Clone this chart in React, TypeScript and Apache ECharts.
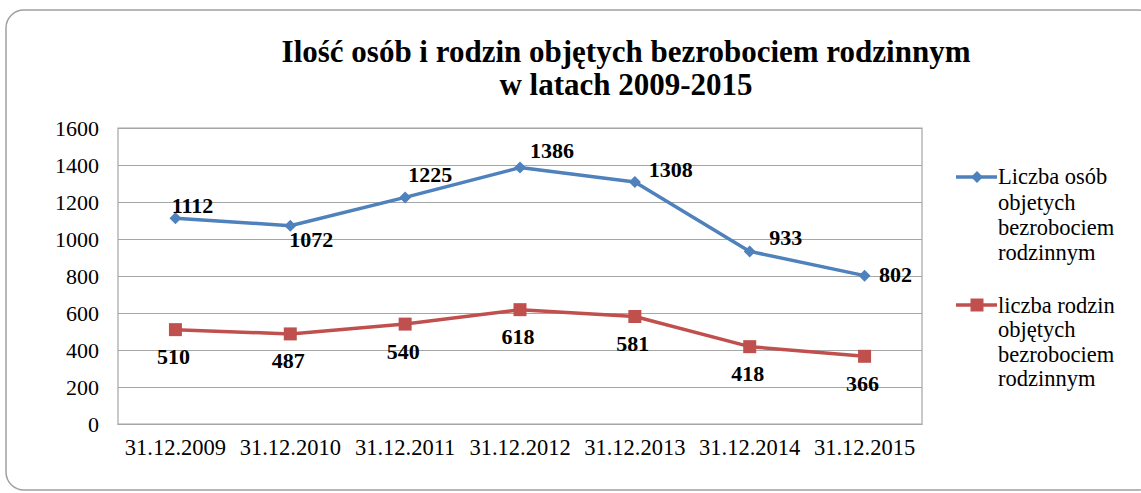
import React, { useEffect, useRef } from "react";
import * as echarts from "echarts";

const categories = [
  "31.12.2009",
  "31.12.2010",
  "31.12.2011",
  "31.12.2012",
  "31.12.2013",
  "31.12.2014",
  "31.12.2015",
];
const osobyValues = [1112, 1072, 1225, 1386, 1308, 933, 802];
const rodzinyValues = [510, 487, 540, 618, 581, 418, 366];
const yTicks = { min: 0, max: 1600, interval: 200 };

const osobyName = "Liczba osób objetych bezrobociem rodzinnym";
const rodzinyName = "liczba rodzin objętych bezrobociem rodzinnym";
const osobyLegend = "Liczba osób\nobjetych\nbezrobociem\nrodzinnym";
const rodzinyLegend = "liczba rodzin\nobjętych\nbezrobociem\nrodzinnym";
const titleText =
  "Ilość osób i rodzin objętych bezrobociem rodzinnym\nw latach 2009-2015";

// label placement (layout only)
const osobyLabelOffsets = [
  [17, -13],
  [21, 14],
  [25, -23],
  [32, -17],
  [36, -13],
  [36, -14],
  [31, -1],
];
const rodzinyLabelOffset = [-2, 27];

const BLUE = "#4F81BD";
const RED = "#C0504D";
const GRID = "#a6a6a6";
const FONT = "Liberation Serif";

export default function App() {
  const ref = useRef<HTMLDivElement>(null);

  useEffect(() => {
    if (!ref.current) return;
    const chart = echarts.init(ref.current, undefined, { renderer: "svg" });

    const labelBase = {
      show: true,
      position: "inside" as const,
      fontFamily: FONT,
      fontWeight: "bold" as const,
      fontSize: 22,
      color: "#000",
    };

    const option: any = {
      animation: false,
      backgroundColor: "#fff",
      title: {
        text: titleText,
        left: 621,
        top: 30,
        textAlign: "center",
        textStyle: {
          fontFamily: FONT,
          fontWeight: "bold",
          fontSize: 31,
          lineHeight: 33,
          color: "#000",
        },
      },
      grid: {
        left: 118,
        top: 128,
        right: 219,
        bottom: 69,
        show: true,
        borderColor: GRID,
        borderWidth: 1.2,
        backgroundColor: "transparent",
      },
      xAxis: {
        type: "category",
        data: categories,
        boundaryGap: true,
        axisLine: { show: true, lineStyle: { color: GRID, width: 1.2 } },
        axisTick: { show: false },
        axisLabel: {
          fontFamily: FONT,
          fontSize: 22.5,
          color: "#000",
          margin: 12,
          interval: 0,
        },
      },
      yAxis: {
        type: "value",
        min: yTicks.min,
        max: yTicks.max,
        interval: yTicks.interval,
        axisLine: { show: false },
        axisTick: { show: false },
        axisLabel: {
          fontFamily: FONT,
          fontSize: 22,
          color: "#000",
          margin: 19,
          formatter: (v: number) => String(v),
        },
        splitLine: { show: true, lineStyle: { color: GRID, width: 1.2 } },
      },
      series: [
        {
          name: osobyName,
          type: "line",
          data: osobyValues.map((v, i) => ({
            value: v,
            label: { offset: osobyLabelOffsets[i] },
          })),
          symbol: "diamond",
          symbolSize: 12,
          lineStyle: { color: BLUE, width: 3.5 },
          itemStyle: { color: BLUE },
          label: labelBase,
          z: 3,
        },
        {
          name: rodzinyName,
          type: "line",
          data: rodzinyValues.map((v) => ({
            value: v,
            label: { offset: rodzinyLabelOffset },
          })),
          symbol: "rect",
          symbolSize: 13,
          lineStyle: { color: RED, width: 3.5 },
          itemStyle: { color: RED },
          label: labelBase,
          z: 3,
        },
      ],
      graphic: [
        {
          type: "rect",
          shape: { x: 6, y: 10, width: 1150, height: 480, r: 18 },
          style: { fill: "none", stroke: "#a0a0a0", lineWidth: 1.5 },
          silent: true,
          z: -10,
        },
        // legend item 1
        {
          type: "line",
          shape: { x1: 956, y1: 177, x2: 997, y2: 177 },
          style: { stroke: BLUE, lineWidth: 3.5 },
        },
        {
          type: "polygon",
          shape: {
            points: [
              [977, 171],
              [983, 177],
              [977, 183],
              [971, 177],
            ],
          },
          style: { fill: BLUE },
        },
        {
          type: "text",
          x: 998,
          y: 177 - 12.6,
          style: {
            text: osobyLegend,
            fontFamily: FONT,
            fontSize: 22.5,
            lineHeight: 25.2,
            fill: "#000",
            verticalAlign: "top",
            align: "left",
          },
        },
        // legend item 2
        {
          type: "line",
          shape: { x1: 956, y1: 305, x2: 997, y2: 305 },
          style: { stroke: RED, lineWidth: 3.5 },
        },
        {
          type: "rect",
          shape: { x: 970.5, y: 298.5, width: 13, height: 13 },
          style: { fill: RED },
        },
        {
          type: "text",
          x: 998,
          y: 305 - 12.3,
          style: {
            text: rodzinyLegend,
            fontFamily: FONT,
            fontSize: 22.5,
            lineHeight: 24.6,
            fill: "#000",
            verticalAlign: "top",
            align: "left",
          },
        },
      ],
    };

    chart.setOption(option);
    return () => chart.dispose();
  }, []);

  return (
    <div
      ref={ref}
      style={{
        position: "absolute",
        left: 0,
        top: 0,
        width: 1141,
        height: 493,
      }}
    />
  );
}
